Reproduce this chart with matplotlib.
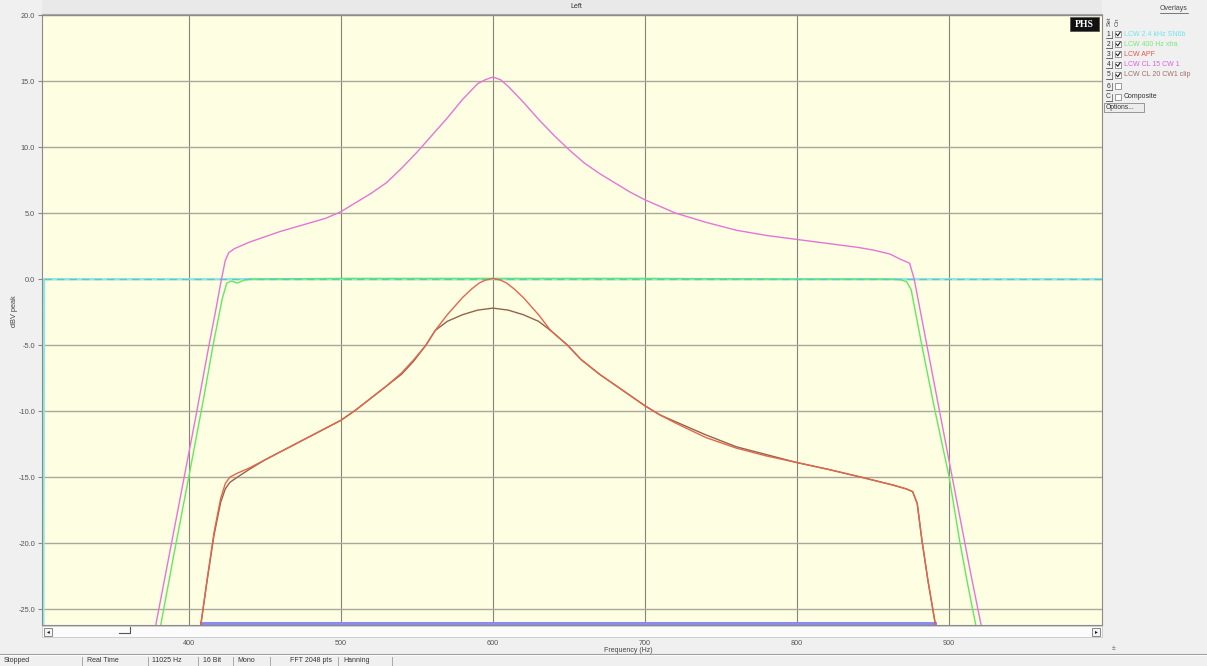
import matplotlib
matplotlib.use('Agg')
import matplotlib.pyplot as plt
from matplotlib.patches import Rectangle
from matplotlib.lines import Line2D

plt.rcParams['font.family'] = ['Liberation Sans', 'DejaVu Sans']

# ---------------- data (frequency in Hz, level in dBV peak) ----------------
cyan_f = [304.4, 304.9, 400, 500, 600, 700, 800, 900, 1000.5]
cyan_db = [-26.2, 0.0, 0.0, 0.0, 0.0, 0.0, 0.0, 0.0, 0.0]

green_f = [381.6, 390, 400, 410, 416, 422, 425, 428, 432, 436, 440, 500, 600,
           700, 800, 860, 868, 872, 875, 878, 882, 890, 900, 907, 912, 917.5]
green_db = [-26.2, -21.0, -15.0, -8.9, -5.0, -1.5, -0.3, -0.15, -0.3, -0.1, 0.0,
            0.05, 0.05, 0.05, 0.0, 0.0, -0.05, -0.2, -0.8, -2.6, -5.0, -9.6,
            -15.0, -19.9, -23.0, -26.2]

pink_f = [378.3, 390, 398, 405, 413, 418, 421, 424, 426.3, 430, 440, 450, 460,
          475, 490, 500, 510, 520, 530, 540, 550, 560, 570, 580, 590, 595, 600,
          605, 610, 620, 630, 640, 650, 660, 670, 680, 690, 700, 720, 740, 760,
          780, 800, 820, 840, 850, 861, 868, 874, 877, 880, 890, 900, 907, 914, 921]
pink_db = [-26.2, -19.2, -14.4, -10.2, -5.2, -2.2, -0.3, 1.4, 2.0, 2.3, 2.8, 3.2,
           3.6, 4.1, 4.6, 5.1, 5.8, 6.5, 7.3, 8.4, 9.6, 10.9, 12.2, 13.6, 14.8,
           15.1, 15.3, 15.1, 14.6, 13.4, 12.1, 10.9, 9.8, 8.8, 8.0, 7.3, 6.6, 6.0,
           5.0, 4.3, 3.7, 3.3, 3.0, 2.7, 2.4, 2.2, 1.9, 1.5, 1.2, 0.0, -1.8, -7.8,
           -13.8, -18.0, -22.2, -26.2]

red_f = [407.9, 412, 416.6, 421, 424, 427, 432, 440, 450, 460, 470, 480, 490, 500,
         510, 520, 530, 540, 548, 556, 562, 570, 580, 586, 591, 595, 600, 605, 609,
         614, 620, 630, 638, 649, 658, 670, 680, 690, 700, 710, 720, 740, 760, 780,
         800, 820, 842, 863, 872, 876, 879, 882, 886, 891]
red_db = [-26.2, -22.8, -19.2, -16.6, -15.5, -15.0, -14.7, -14.3, -13.7, -13.1,
          -12.5, -11.9, -11.3, -10.7, -9.9, -9.0, -8.1, -7.1, -6.1, -5.0, -3.9,
          -2.7, -1.4, -0.75, -0.3, -0.08, 0.05, -0.08, -0.3, -0.75, -1.4, -2.7,
          -3.9, -5.0, -6.1, -7.2, -8.0, -8.8, -9.6, -10.3, -10.9, -12.0, -12.8,
          -13.4, -13.9, -14.4, -15.0, -15.6, -15.9, -16.1, -17.0, -19.7, -22.8, -26.2]

brown_f = [407.9, 412, 416.6, 421, 424, 427, 432, 440, 450, 460, 470, 480, 490,
           500, 510, 520, 530, 540, 548, 556, 562, 570, 580, 590, 600, 610, 620,
           630, 638, 649, 658, 670, 680, 690, 700, 710, 720, 740, 760, 780, 800,
           820, 842, 863, 872, 876, 879, 882, 886, 891]
brown_db = [-26.2, -22.9, -19.4, -16.9, -15.9, -15.4, -15.0, -14.4, -13.7, -13.1,
            -12.5, -11.9, -11.3, -10.7, -9.9, -9.0, -8.1, -7.2, -6.2, -5.0, -3.9,
            -3.2, -2.7, -2.35, -2.2, -2.35, -2.7, -3.2, -3.9, -5.0, -6.1, -7.2,
            -8.0, -8.8, -9.6, -10.3, -10.8, -11.8, -12.7, -13.3, -13.9, -14.4,
            -15.0, -15.6, -15.9, -16.1, -17.0, -19.7, -22.8, -26.2]

floor_f = [408, 891]
floor_db = [-26.02, -26.02]

x_ticks = [400, 500, 600, 700, 800, 900]
y_ticks = [-25, -20, -15, -10, -5, 0, 5, 10, 15, 20]

legend_labels = ["LCW 2.4 kHz SN6b", "LCW 400 Hz xtra", "LCW APF",
                 "LCW CL 15 CW 1", "LCW CL 20 CW1 clip"]
legend_colors = ["#72e4ec", "#78e878", "#e05a50", "#e060e0", "#a07068"]
status_items = ["Stopped", "Real Time", "11025 Hz", "16 Bit", "Mono",
                "FFT 2048 pts", "Hanning"]

# ---------------- figure ----------------
W, H = 1207, 666
fig = plt.figure(figsize=(W / 100, H / 100), dpi=100, facecolor='#f0f0f0')

ax = fig.add_axes([42 / W, 1 - 625 / H, 1060 / W, 610 / H])
ax.set_facecolor('#fefee2')
ax.set_xlim(303.5, 1000.5)
ax.set_ylim(-26.2, 20.0)

for x in x_ticks:
    ax.axvline(x, color='#858580', lw=0.8, zorder=1)
for y in y_ticks:
    ax.axhline(y, color='#aaa89c', lw=1.0, zorder=1)

ax.plot(cyan_f, cyan_db, color='#92e6e6', lw=1.6, zorder=2)
ax.plot(green_f, green_db, color='#62e862', lw=1.0, zorder=3)
ax.plot(cyan_f[1:], cyan_db[1:], color='#5ccabc', lw=0.9, dashes=(6, 4), zorder=4)
ax.plot(floor_f, floor_db, color='#8a8af2', lw=2.2, zorder=3)
ax.plot(pink_f, pink_db, color='#e674d8', lw=1.0, zorder=5)
ax.plot(brown_f, brown_db, color='#94644a', lw=1.0, zorder=5)
ax.plot(red_f, red_db, color='#e2664e', lw=1.0, zorder=6)

ax.set_xticks(x_ticks)
ax.set_xticklabels([str(v) for v in x_ticks])
ax.set_yticks(y_ticks)
ax.set_yticklabels(["%.1f" % v for v in y_ticks])
ax.tick_params(axis='x', length=0, pad=11, labelsize=5.2, labelcolor='#555555')
ax.tick_params(axis='y', length=3, width=0.8, color='#888888', pad=2,
               labelsize=5.3, labelcolor='#555555')
for s in ax.spines.values():
    s.set_color('#8a8a8a')
    s.set_linewidth(0.8)

# ---------------- UI decoration (pixel coordinates) ----------------
ui = fig.add_axes([0, 0, 1, 1], facecolor='none')
ui.set_xlim(0, W)
ui.set_ylim(H, 0)
ui.axis('off')
ui.set_zorder(5)

# header band with title
ui.add_patch(Rectangle((42, 0), 1060, 14, facecolor='#e9e9e9', edgecolor='none'))
ui.add_line(Line2D([42, 1102], [13.5, 13.5], color='#a8a8a8', lw=0.8))
ui.text(576, 6.5, "Left", fontsize=5, color='#333333', ha='center', va='center')

# y label
ui.text(14, 311, "dBV peak", fontsize=5.3, color='#444444', rotation=90,
        ha='center', va='center')

# scrollbar
ui.add_patch(Rectangle((42, 626), 1060, 11, facecolor='#fbfbfb', edgecolor='#c8c8c8', lw=0.6))
ui.add_patch(Rectangle((44, 627.5), 8, 8, facecolor='#f4f4f4', edgecolor='#777777', lw=0.6))
ui.text(48, 631.5, "\u25c2", fontsize=4, color='#111111', ha='center', va='center',
        family='DejaVu Sans')
ui.add_patch(Rectangle((1092, 627.5), 8, 8, facecolor='#f4f4f4', edgecolor='#777777', lw=0.6))
ui.text(1096, 631.5, "\u25b8", fontsize=4, color='#111111', ha='center', va='center',
        family='DejaVu Sans')
ui.add_line(Line2D([119, 130, 130], [633, 633, 627], color='#555555', lw=0.8))

# x label
ui.text(628, 650.5, "Frequency (Hz)", fontsize=5, color='#444444', ha='center', va='center')
ui.text(1114, 649, "\u00b1", fontsize=5, color='#666666', ha='center', va='center')

# status bar
ui.add_line(Line2D([0, W], [654, 654], color='#a0a0a0', lw=0.8))
ui.add_line(Line2D([0, W], [655.2, 655.2], color='#ffffff', lw=0.6))
status_x = [4, 87, 152, 203, 237, 290, 343]
sep_x = [82, 148, 198, 233, 270, 338, 392]
for t, xx in zip(status_items, status_x):
    ui.text(xx, 661, t, fontsize=5, color='#333333', ha='left', va='center')
for xx in sep_x:
    ui.add_line(Line2D([xx, xx], [657, 665.5], color='#a8a8a8', lw=0.7))

# right panel: overlays legend
ui.text(1174, 9, "Overlays", fontsize=5, color='#444444', ha='center', va='center')
ui.add_line(Line2D([1160, 1188], [12.5, 12.5], color='#444444', lw=0.5))
ui.add_patch(Rectangle((1070, 17), 29, 14, facecolor='#111111', edgecolor='#555555', lw=0.6))
ui.text(1084.5, 24.3, "PHS", fontsize=7, color='white', fontweight='bold',
        family=['Liberation Serif', 'DejaVu Serif'], ha='center', va='center')
ui.text(1109.5, 21, "Set", fontsize=4.6, color='#444444', rotation=90, ha='center', va='center')
ui.text(1117, 22, "On", fontsize=4.6, color='#444444', rotation=90, ha='center', va='center')

row_y = [34, 44, 54, 64.5, 75, 86, 97]
row_ids = ["1", "2", "3", "4", "5", "6", "C"]
for i, (rid, yy) in enumerate(zip(row_ids, row_y)):
    ui.text(1108.5, yy, rid, fontsize=4.8, color='#333333', ha='center', va='center')
    ui.add_line(Line2D([1106, 1112], [yy + 3.5, yy + 3.5], color='#333333', lw=0.5))
    ui.add_line(Line2D([1112, 1112], [yy - 3.5, yy + 3.5], color='#555555', lw=0.5))
    checked = i < len(legend_labels)
    ui.add_patch(Rectangle((1115, yy - 3), 6, 6, facecolor='white', edgecolor='#777777', lw=0.5))
    if checked:
        ui.add_line(Line2D([1116.2, 1117.8, 1120.2], [yy, yy + 1.8, yy - 1.8],
                           color='#222222', lw=0.8))
    if i < len(legend_labels):
        ui.text(1124, yy, legend_labels[i], fontsize=5, color=legend_colors[i],
                ha='left', va='center')
    elif rid == "C":
        ui.text(1124, yy, "Composite", fontsize=5, color='#333333', ha='left', va='center')

ui.add_patch(Rectangle((1104, 103), 40, 9, facecolor='#ececec', edgecolor='#888888', lw=0.6))
ui.text(1106, 107.6, "Options...", fontsize=4.8, color='#333333', ha='left', va='center')

fig.savefig('out.png', dpi=100, facecolor=fig.get_facecolor())
